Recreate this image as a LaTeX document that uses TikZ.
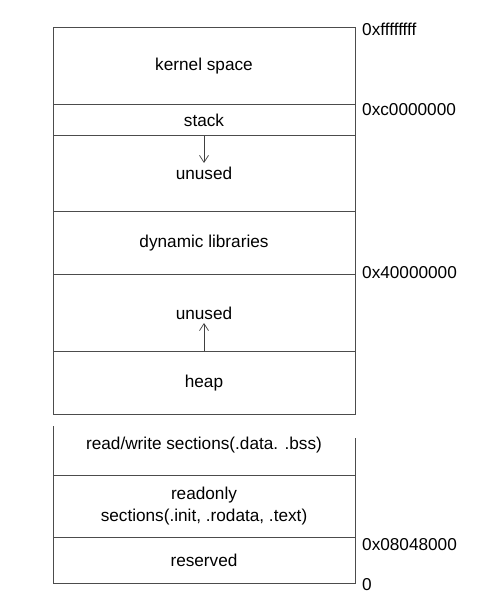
\documentclass[tikz,border=0pt]{standalone}
\usepackage{fontspec}
\setmainfont{Liberation Sans}
\usetikzlibrary{arrows.meta}
\begin{document}
\begin{tikzpicture}[x=1pt,y=-1pt,
  every node/.style={font=\fontsize{17.2}{22}\selectfont, text=black},
  region/.style={draw=black!70, line width=0.9pt, minimum width=302pt, inner sep=0pt, anchor=north, align=center},
  addr/.style={anchor=west, inner sep=0pt},
  growarrow/.style={draw=black!75, line width=0.7pt, -{Straight Barb[length=7pt,width=9pt]}},
  sideline/.style={draw=black!70, line width=0.9pt}]
\useasboundingbox (0,0) rectangle (490,599);
\fill[white] (0,0) rectangle (490,599);
% stacked regions (x from 53 to 355, centre 204)
\node[region, minimum height=77pt] (kernel) at (204,27) {kernel space};
\node[region, minimum height=31pt] (stack) at (204,104) {stack};
\node[region, minimum height=76pt] (unusedA) at (204,135) {unused};
\node[region, minimum height=63pt] (dyn) at (204,211) {dynamic libraries};
\node[region, minimum height=77pt] (unusedB) at (204,274) {unused};
\node[region, minimum height=63pt] (heap) at (204,351) {heap};
% lower block: open at the top
\coordinate (rwtl) at (53,426);
\coordinate (rwtr) at (355,438);
\node (rw) at (204,445) {read/write sections(.data. .bss)};
\node[region, minimum height=62pt] (ro) at (204,475) {readonly\\sections(.init, .rodata, .text)};
\node[region, minimum height=46pt] (res) at (204,537) {reserved};
\draw[sideline] (rwtl) -- (rwtl |- ro.north);
\draw[sideline] (rwtr) -- (rwtr |- ro.north);
% growth arrows
\coordinate (downtip) at (204,163);
\coordinate (uptip) at (204,323);
\draw[growarrow] (stack.south) -- (downtip);
\draw[growarrow] (heap.north) -- (uptip);
% addresses
\node[addr] (a1) at (362,29) {0xffffffff};
\node[addr] (a2) at (362,110) {0xc0000000};
\node[addr] (a3) at (362,273) {0x40000000};
\node[addr] (a4) at (362,545) {0x08048000};
\node[addr] (a5) at (362,585) {0};
\end{tikzpicture}
\end{document}
